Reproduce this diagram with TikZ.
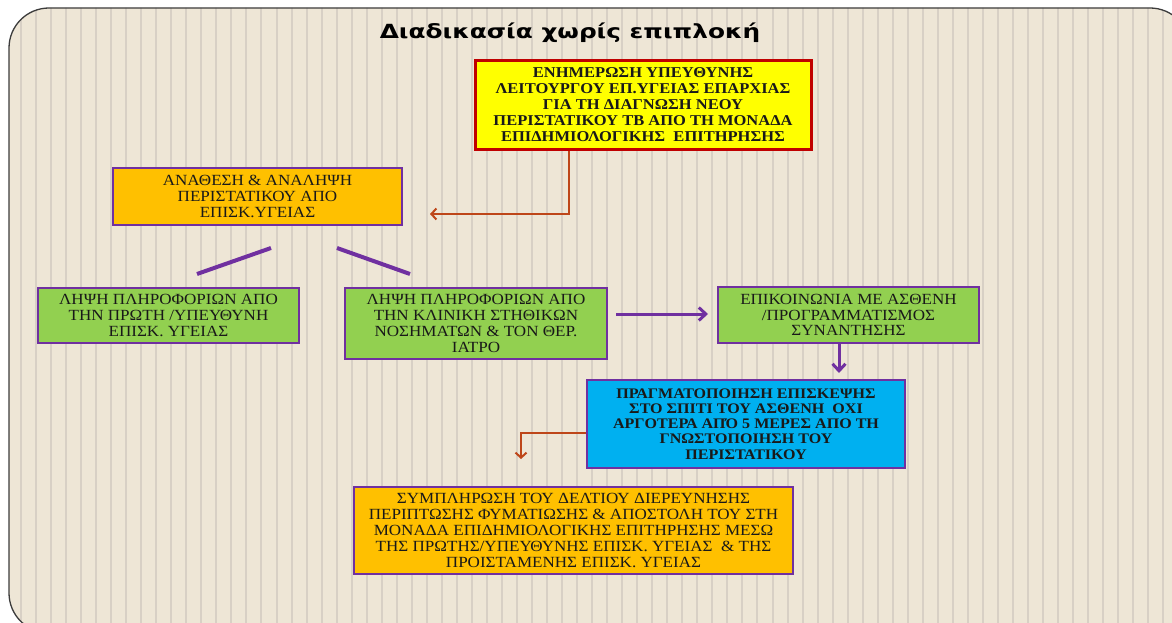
\documentclass[tikz,border=0pt]{standalone}
\usepackage{fontspec}
\setmainfont[FakeStretch=1.1]{Liberation Serif}
\newfontfamily\titlefont{DejaVu Sans}
\usetikzlibrary{arrows.meta}
\definecolor{bgc}{RGB}{238,230,214}
\definecolor{stripec}{RGB}{216,208,197}
\definecolor{framec}{RGB}{60,60,60}
\definecolor{ylw}{RGB}{255,255,0}
\definecolor{redb}{RGB}{192,0,0}
\definecolor{orng}{RGB}{255,192,0}
\definecolor{grn}{RGB}{146,208,80}
\definecolor{blu}{RGB}{0,176,240}
\definecolor{purp}{RGB}{112,48,160}
\definecolor{rust}{RGB}{190,70,25}
\definecolor{txt}{RGB}{25,25,25}
\begin{document}
\begin{tikzpicture}[x=1pt,y=-1pt,
  box/.style={draw=purp, line width=2.5pt, inner sep=0pt, align=center,
    text=txt, font=\fontsize{15.5}{15.8}\selectfont},
  boldbox/.style={box, font=\fontsize{14.6}{15.2}\selectfont\bfseries},
  pline/.style={draw=purp, line width=4pt},
  parrow/.style={draw=purp, line width=3pt, -{Straight Barb[length=7pt,width=13pt]}},
  rarrow/.style={draw=rust, line width=2pt, -{Straight Barb[length=5pt,width=11pt]}}
]
\useasboundingbox (0,0) rectangle (1172,623);
\fill[white] (0,0) rectangle (1172,623);
% frame
\begin{scope}
  \clip[rounded corners=40pt] (9,8) rectangle (1190,633);
  \fill[bgc] (0,0) rectangle (1200,640);
  \foreach \i in {0,...,77} \draw[stripec, line width=2pt] ({21+15.03*\i},0) -- ++(0,640);
\end{scope}
\draw[framec, line width=1.3pt, rounded corners=40pt] (9,8) rectangle (1190,633);

% title
\node (title) at (570,33) {\titlefont\bfseries\fontsize{19.5}{22}\selectfont\scalebox{1.27}[1]{Διαδικασία χωρίς επιπλοκή}};

% boxes
\node[boldbox, fill=ylw, draw=redb, line width=3pt, minimum width=336pt, minimum height=88pt,
  font=\fontsize{15}{16}\selectfont\bfseries] (y1) at (643,105)
 {ΕΝΗΜΕΡΩΣΗ ΥΠΕΥΘΥΝΗΣ\\ΛΕΙΤΟΥΡΓΟΥ ΕΠ.ΥΓΕΙΑΣ ΕΠΑΡΧΙΑΣ\\ΓΙΑ ΤΗ ΔΙΑΓΝΩΣΗ ΝΕΟΥ\\ΠΕΡΙΣΤΑΤΙΚΟΥ ΤΒ ΑΠΟ ΤΗ ΜΟΝΑΔΑ\\ΕΠΙΔΗΜΙΟΛΟΓΙΚΗΣ\ \ ΕΠΙΤΗΡΗΣΗΣ};
\node[box, fill=orng, minimum width=289pt, minimum height=57pt] (o1) at (257.5,196.5)
 {ΑΝΑΘΕΣΗ \& ΑΝΑΛΗΨΗ\\ΠΕΡΙΣΤΑΤΙΚΟΥ ΑΠΟ\\ΕΠΙΣΚ.ΥΓΕΙΑΣ};
\node[box, fill=grn, minimum width=261pt, minimum height=55pt] (g1) at (168.5,315.5)
 {ΛΗΨΗ ΠΛΗΡΟΦΟΡΙΩΝ ΑΠΟ\\ΤΗΝ ΠΡΩΤΗ /ΥΠΕΥΘΥΝΗ\\ΕΠΙΣΚ. ΥΓΕΙΑΣ};
\node[box, fill=grn, minimum width=262pt, minimum height=71pt] (g2) at (476,323.5)
 {ΛΗΨΗ ΠΛΗΡΟΦΟΡΙΩΝ ΑΠΟ\\ΤΗΝ ΚΛΙΝΙΚΗ ΣΤΗΘΙΚΩΝ\\ΝΟΣΗΜΑΤΩΝ \& ΤΟΝ ΘΕΡ.\\ΙΑΤΡΟ};
\node[box, fill=grn, minimum width=261pt, minimum height=56pt] (g3) at (848.5,315)
 {ΕΠΙΚΟΙΝΩΝΙΑ ΜΕ ΑΣΘΕΝΗ\\/ΠΡΟΓΡΑΜΜΑΤΙΣΜΟΣ\\ΣΥΝΑΝΤΗΣΗΣ};
\node[boldbox, fill=blu, minimum width=318pt, minimum height=88pt] (b1) at (746,424)
 {ΠΡΑΓΜΑΤΟΠΟΙΗΣΗ ΕΠΙΣΚΕΨΗΣ\\ΣΤΟ ΣΠΙΤΙ ΤΟΥ ΑΣΘΕΝΗ\ \ ΟΧΙ\\ΑΡΓΟΤΕΡΑ ΑΠΌ 5 ΜΕΡΕΣ ΑΠΟ ΤΗ\\ΓΝΩΣΤΟΠΟΙΗΣΗ ΤΟΥ\\ΠΕΡΙΣΤΑΤΙΚΟΥ};
\node[box, fill=orng, minimum width=439pt, minimum height=87pt] (o2) at (573.5,530.5)
 {ΣΥΜΠΛΗΡΩΣΗ ΤΟΥ ΔΕΛΤΙΟΥ ΔΙΕΡΕΥΝΗΣΗΣ\\ΠΕΡΙΠΤΩΣΗΣ ΦΥΜΑΤΙΩΣΗΣ \& ΑΠΟΣΤΟΛΗ ΤΟΥ ΣΤΗ\\ΜΟΝΑΔΑ ΕΠΙΔΗΜΙΟΛΟΓΙΚΗΣ ΕΠΙΤΗΡΗΣΗΣ ΜΕΣΩ\\ΤΗΣ ΠΡΩΤΗΣ/ΥΠΕΥΘΥΝΗΣ ΕΠΙΣΚ. ΥΓΕΙΑΣ\ \ \& ΤΗΣ\\ΠΡΟΙΣΤΑΜΕΝΗΣ ΕΠΙΣΚ. ΥΓΕΙΑΣ};

% connector coordinates
\coordinate (l1a) at (271,248);
\coordinate (l1b) at (197,274);
\coordinate (l2a) at (337,248);
\coordinate (l2b) at (410,274);
\coordinate (ra) at (430,214);
\coordinate (rb) at (521,459);
\coordinate (pa) at (708,314);
\coordinate (pb) at (839,373);

% connectors
\draw[pline] (l1a) -- (l1b);
\draw[pline] (l2a) -- (l2b);
\draw[rarrow] (y1.south -| 569,0) |- (ra);
\draw[rarrow] (b1.west |- 0,433) -| (rb);
\draw[parrow] (616,314) -- (pa);
\draw[parrow] (g3.south -| pb) -- (pb);
\end{tikzpicture}
\end{document}
